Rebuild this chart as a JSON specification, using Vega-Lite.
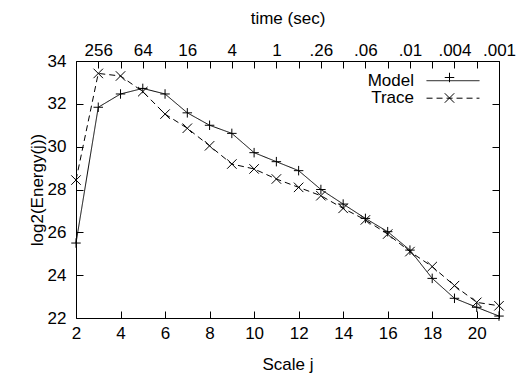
{
  "$schema": "https://vega.github.io/schema/vega-lite/v6.json",
  "width": 423,
  "height": 257,
  "autosize": {"type": "none"},
  "padding": {"left": 76, "top": 61, "right": 19, "bottom": 63},
  "background": "white",
  "config": {
    "view": {"stroke": "black", "strokeWidth": 1},
    "font": "Liberation Sans",
    "axis": {
      "domain": false,
      "grid": false,
      "tickColor": "black",
      "tickSize": -7,
      "tickWidth": 1,
      "labelFlush": false,
      "labelOverlap": false,
      "labelColor": "black",
      "labelFont": "Liberation Sans",
      "labelFontSize": 17,
      "titleFont": "Liberation Sans",
      "titleFontSize": 17,
      "titleFontWeight": "normal",
      "titleColor": "black"
    },
    "legend": {
      "labelFont": "Liberation Sans",
      "labelFontSize": 17,
      "labelColor": "black"
    }
  },
  "data": {
    "values": [
      {"j": 2, "series": "Model", "energy": 25.5},
      {"j": 3, "series": "Model", "energy": 31.84},
      {"j": 4, "series": "Model", "energy": 32.46},
      {"j": 5, "series": "Model", "energy": 32.72},
      {"j": 6, "series": "Model", "energy": 32.46},
      {"j": 7, "series": "Model", "energy": 31.58},
      {"j": 8, "series": "Model", "energy": 31.0},
      {"j": 9, "series": "Model", "energy": 30.62},
      {"j": 10, "series": "Model", "energy": 29.72},
      {"j": 11, "series": "Model", "energy": 29.3},
      {"j": 12, "series": "Model", "energy": 28.88},
      {"j": 13, "series": "Model", "energy": 28.0},
      {"j": 14, "series": "Model", "energy": 27.32},
      {"j": 15, "series": "Model", "energy": 26.65},
      {"j": 16, "series": "Model", "energy": 26.03},
      {"j": 17, "series": "Model", "energy": 25.17},
      {"j": 18, "series": "Model", "energy": 23.85},
      {"j": 19, "series": "Model", "energy": 22.92},
      {"j": 20, "series": "Model", "energy": 22.5},
      {"j": 21, "series": "Model", "energy": 22.09},
      {"j": 2, "series": "Trace", "energy": 28.44},
      {"j": 3, "series": "Trace", "energy": 33.42},
      {"j": 4, "series": "Trace", "energy": 33.3},
      {"j": 5, "series": "Trace", "energy": 32.57},
      {"j": 6, "series": "Trace", "energy": 31.52},
      {"j": 7, "series": "Trace", "energy": 30.86},
      {"j": 8, "series": "Trace", "energy": 30.04},
      {"j": 9, "series": "Trace", "energy": 29.19},
      {"j": 10, "series": "Trace", "energy": 28.96},
      {"j": 11, "series": "Trace", "energy": 28.49},
      {"j": 12, "series": "Trace", "energy": 28.1},
      {"j": 13, "series": "Trace", "energy": 27.71},
      {"j": 14, "series": "Trace", "energy": 27.12},
      {"j": 15, "series": "Trace", "energy": 26.58},
      {"j": 16, "series": "Trace", "energy": 25.92},
      {"j": 17, "series": "Trace", "energy": 25.1},
      {"j": 18, "series": "Trace", "energy": 24.4},
      {"j": 19, "series": "Trace", "energy": 23.51},
      {"j": 20, "series": "Trace", "energy": 22.73},
      {"j": 21, "series": "Trace", "energy": 22.57}
    ]
  },
  "layer": [
    {
      "mark": {"type": "line", "color": "black", "strokeWidth": 1},
      "encoding": {
        "x": {
          "field": "j", "type": "quantitative",
          "scale": {"domain": [2, 21], "nice": false, "zero": false},
          "axis": {"orient": "bottom", "values": [2, 4, 6, 8, 10, 12, 14, 16, 18, 20], "title": "Scale j", "labelPadding": 14, "titlePadding": 15}
        },
        "y": {
          "field": "energy", "type": "quantitative",
          "scale": {"domain": [22, 34], "nice": false, "zero": false},
          "axis": {"orient": "left", "values": [22, 24, 26, 28, 30, 32, 34], "title": "log2(Energy(j))", "labelPadding": 17, "titlePadding": 1}
        },
        "strokeDash": {
          "field": "series", "type": "nominal",
          "scale": {"range": [[1, 0], [6, 4]]},
          "legend": {
            "title": null,
            "orient": "none",
            "legendX": 368.5,
            "legendY": 11.2,
            "padding": 0,
            "symbolType": "M-5,0H5",
            "symbolSize": 112,
            "symbolStrokeColor": "black",
            "symbolFillColor": "transparent",
            "symbolStrokeWidth": 1,
            "rowPadding": -0.5,
            "labelAlign": "right",
            "labelOffset": -47.5
          }
        }
      }
    },
    {
      "mark": {"type": "point", "filled": false, "color": "black", "strokeWidth": 1, "opacity": 1, "size": 90},
      "encoding": {
        "x": {"field": "j", "type": "quantitative", "scale": {"domain": [2, 21], "nice": false, "zero": false}, "axis": null},
        "y": {"field": "energy", "type": "quantitative", "scale": {"domain": [22, 34], "nice": false, "zero": false}, "axis": null},
        "shape": {
          "field": "series", "type": "nominal",
          "scale": {"domain": ["Model", "Trace"], "range": ["M-1,0H1M0,-1V1", "M-1,-1L1,1M-1,1L1,-1"]},
          "legend": {
            "title": null,
            "orient": "none",
            "legendX": 365,
            "legendY": 8.5,
            "padding": 0,
            "symbolSize": 90,
            "symbolStrokeColor": "black",
            "symbolFillColor": "transparent",
            "symbolStrokeWidth": 1,
            "clipHeight": 16,
            "rowPadding": 3.5,
            "labelExpr": "''"
          }
        }
      }
    },
    {
      "mark": {"type": "point", "opacity": 0},
      "encoding": {
        "x": {
          "field": "j", "type": "quantitative",
          "scale": {"domain": [2, 21], "nice": false, "zero": false},
          "axis": {
            "orient": "top",
            "values": [2, 3, 4, 5, 6, 7, 8, 9, 10, 11, 12, 13, 14, 15, 16, 17, 18, 19, 20, 21],
            "labelExpr": "['', '', '', '256', '', '64', '', '16', '', '4', '', '1', '', '.26', '', '.06', '', '.01', '', '.004', '', '.001'][datum.value]",
            "title": "time (sec)",
            "labelPadding": 9,
            "titlePadding": 14
          }
        },
        "y": {
          "field": "energy", "type": "quantitative",
          "scale": {"domain": [22, 34], "nice": false, "zero": false},
          "axis": {"orient": "right", "values": [22, 24, 26, 28, 30, 32, 34], "labels": false, "title": null}
        }
      }
    }
  ],
  "resolve": {"axis": {"x": "independent", "y": "independent"}}
}
